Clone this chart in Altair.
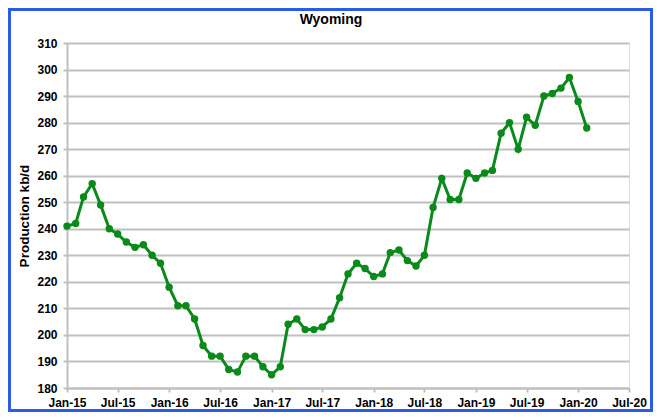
import altair as alt
import pandas as pd

months = pd.date_range("2015-01-01", "2020-02-01", freq="MS").strftime("%Y-%m-%d").tolist()
production = [
    241, 242, 252, 257, 249, 240, 238, 235, 233, 234, 230, 227,   # 2015
    218, 211, 211, 206, 196, 192, 192, 187, 186, 192, 192, 188,   # 2016
    185, 188, 204, 206, 202, 202, 203, 206, 214, 223, 227, 225,   # 2017
    222, 223, 231, 232, 228, 226, 230, 248, 259, 251, 251, 261,   # 2018
    259, 261, 262, 276, 280, 270, 282, 279, 290, 291, 293, 297,   # 2019
    288, 278,                                                    # 2020
]
tick_dates = [(2015, 1), (2015, 7), (2016, 1), (2016, 7), (2017, 1), (2017, 7),
              (2018, 1), (2018, 7), (2019, 1), (2019, 7), (2020, 1), (2020, 7)]
y_ticks = list(range(180, 311, 10))
chart_title = "Wyoming"

df = pd.DataFrame({"date": months, "value": production})

W, H = 562, 345
FONT = "Liberation Sans"
GREEN = "#0a8a1a"

x_enc = alt.X(
    "date:T",
    scale=alt.Scale(type="utc",
                    domain=[alt.DateTime(year=2015, month=1, date=1, utc=True),
                            alt.DateTime(year=2020, month=7, date=1, utc=True)]),
    axis=alt.Axis(
        values=[alt.DateTime(year=y, month=m, date=1, utc=True) for y, m in tick_dates],
        labelExpr="utcFormat(datum.value, '%b-%y')", title=None, grid=False,
        tickSize=4, labelPadding=5, labelFontSize=12, labelFontWeight="bold",
        labelFont=FONT, labelColor="#000000", domainColor="#c0c0c0", domainWidth=2,
        tickColor="#c0c0c0", tickWidth=2, labelFlush=False,
    ),
)
y_enc = alt.Y(
    "value:Q",
    scale=alt.Scale(domain=[180, 310], nice=False, zero=False),
    axis=alt.Axis(
        values=y_ticks, title="Production kb/d", titleFont=FONT, titleFontSize=13.5,
        titleFontWeight="bold", titleColor="#000000", titlePadding=5,
        tickSize=4, labelPadding=6, labelFontSize=12, labelFontWeight="bold",
        labelFont=FONT, labelColor="#000000", gridColor="#c0c0c0", gridWidth=2,
        domainColor="#c0c0c0", domainWidth=2, tickColor="#c0c0c0", tickWidth=2,
    ),
)

base = alt.Chart(df).encode(x=x_enc, y=y_enc)
line = base.mark_line(color=GREEN, strokeWidth=3)
points = base.mark_point(filled=True, color=GREEN, size=55, opacity=1)

deco = alt.Chart(alt.Data(values=[{"t": chart_title}]))
frame = deco.mark_rect(
    filled=False, stroke="#2a5ce8", strokeWidth=3, clip=False
).encode(
    x=alt.value(-57.5), x2=alt.value(W + 22.5),
    y=alt.value(-33.5), y2=alt.value(H + 22.5),
)
title = deco.mark_text(
    font=FONT, fontSize=14, fontWeight="bold", color="#000000",
    align="center", baseline="alphabetic", clip=False,
).encode(text="t:N", x=alt.value(W / 2 - 17), y=alt.value(-19))

chart = alt.layer(line, points, frame, title).properties(
    width=W, height=H,
    autosize=alt.AutoSizeParams(type="none"),
    padding={"left": 59, "top": 35, "right": 24, "bottom": 24},
).configure_view(stroke=None).configure(background="white")

chart.save("out.html", embed_options={"renderer": "svg", "actions": False})
